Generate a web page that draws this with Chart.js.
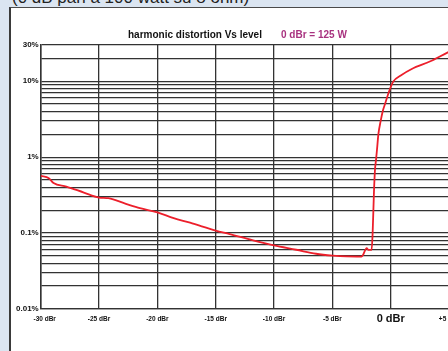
<!DOCTYPE html>
<html>
<head>
<meta charset="utf-8">
<script src="https://cdn.jsdelivr.net/npm/chart.js@4.4.1/dist/chart.umd.min.js"></script>
<style>
  html, body { margin: 0; padding: 0; overflow: hidden; width: 448px; height: 351px; background: #dbe5f1; }
  #caption { position: absolute; left: 12px; top: -11px; font: 17px "Liberation Sans", Arial, sans-serif; line-height: 17px; color: #222; white-space: nowrap; z-index: 2; }
  #panel { position: absolute; left: 9px; top: 7px; width: 600px; height: 400px; background: #fff; border-left: 2px solid #3a3a3a; border-top: 1px solid #4a4a4a; }
  #chart { position: absolute; left: 10px; top: 8px; z-index: 1; }
</style>
</head>
<body>
<div id="caption">(0 dB pari a 100 watt su 8 ohm)</div>
<div id="panel"></div>
<canvas id="chart" width="510" height="343"></canvas>
<script>
// level in dBr and THD in %
const levelDbr = [-30, -29.3, -28.9, -27.8, -26.3, -25, -24.2, -22.7, -21.5, -20, -18.6, -17.2, -15, -13.8, -11.8, -10,
  -8.1, -6.4, -5, -3.8, -2.5, -2.4, -2.06, -1.93, -1.64, -1.55, -1.44, -1.35, -1.26, -1.15, -1.06, -0.86, -0.69, -0.49,
  -0.12, 0.22, 0.86, 1.8, 3.4, 4.9, 6.3];
const thdPct = [0.567, 0.529, 0.455, 0.41, 0.342, 0.294, 0.288, 0.243, 0.213, 0.187, 0.157, 0.137, 0.108, 0.097, 0.08, 0.0687,
  0.0603, 0.0534, 0.0505, 0.0492, 0.049, 0.0507, 0.0635, 0.0603, 0.06, 0.1, 0.336, 0.68, 0.92, 1.4, 2.0, 3.0, 4.0, 5.0,
  7.5, 9.9, 11.9, 14.5, 18.3, 24, 30];

const xTickValues = [-30, -25, -20, -15, -10, -5, 0, 5, 10];
const xTickLabels = ['-30 dBr', '-25 dBr', '-20 dBr', '-15 dBr', '-10 dBr', '-5 dBr', '0 dBr', '+5 dBr', '+10 dBr'];

const yGridValues = [0.01, 0.02, 0.03, 0.04, 0.05, 0.06, 0.07, 0.08, 0.09,
  0.1, 0.2, 0.3, 0.4, 0.5, 0.6, 0.7, 0.8, 0.9,
  1, 2, 3, 4, 5, 6, 7, 8, 9, 10, 20, 30];
const yLabels = { 0.01: '0.01%', 0.1: '0.1%', 1: '1%', 10: '10%', 30: '30%' };

const chartTitle = 'harmonic distortion Vs level';
const chartNote = '0 dBr = 125 W';

const FONT = '"Liberation Sans", Arial, sans-serif';

// title + x labels drawn by hand (0 dBr is bigger and labels are centred vertically)
const textPlugin = {
  id: 'texts',
  afterDraw(chart) {
    const ctx = chart.ctx;
    const xs = chart.scales.x;
    ctx.save();
    ctx.textBaseline = 'middle';
    ctx.textAlign = 'left';
    ctx.font = 'bold 10px ' + FONT;
    ctx.fillStyle = '#111';
    ctx.fillText(chartTitle, 118, 27);
    ctx.fillStyle = '#a8327f';
    ctx.fillText(chartNote, 271, 27);

    ctx.textAlign = 'center';
    ctx.fillStyle = '#111';
    xTickValues.forEach((v, i) => {
      ctx.font = v === 0 ? 'bold 11px ' + FONT : 'bold 6.5px ' + FONT;
      let x = xs.getPixelForValue(v);
      if (v === -30) x += 4; // first label sits a bit inside
      ctx.fillText(xTickLabels[i], x, xs.top + 10);
    });
    ctx.restore();
  }
};

const points = levelDbr.map((x, i) => ({ x: x, y: thdPct[i] }));

new Chart(document.getElementById('chart'), {
  type: 'line',
  data: {
    datasets: [{
      data: points,
      borderColor: '#ec1f2b',
      borderWidth: 1.8,
      pointRadius: 0,
      cubicInterpolationMode: 'monotone',
      fill: false
    }]
  },
  options: {
    responsive: false,
    animation: false,
    layout: { padding: { top: 37, left: 0, right: 12.6, bottom: 0 } },
    plugins: {
      legend: { display: false },
      tooltip: { enabled: false }
    },
    scales: {
      x: {
        type: 'linear',
        min: -30,
        max: 10,
        afterBuildTicks: (scale) => { scale.ticks = xTickValues.map(v => ({ value: v })); },
        afterFit: (scale) => { scale.height = 42; },
        ticks: { display: false },
        grid: { color: '#333', lineWidth: 1.3, drawTicks: false },
        border: { color: '#333', width: 1.3 }
      },
      y: {
        type: 'logarithmic',
        min: 0.01,
        max: 30,
        afterBuildTicks: (scale) => { scale.ticks = yGridValues.map(v => ({ value: v })); },
        afterFit: (scale) => { scale.width = 30.7; },
        ticks: {
          autoSkip: false,
          padding: 2,
          color: '#111',
          font: { family: FONT, size: 8, weight: 'bold' },
          callback: (v) => yLabels[v] || ''
        },
        grid: { color: '#333', lineWidth: 1.3, drawTicks: false },
        border: { color: '#333', width: 1.5 }
      }
    }
  },
  plugins: [textPlugin]
});
</script>
</body>
</html>
